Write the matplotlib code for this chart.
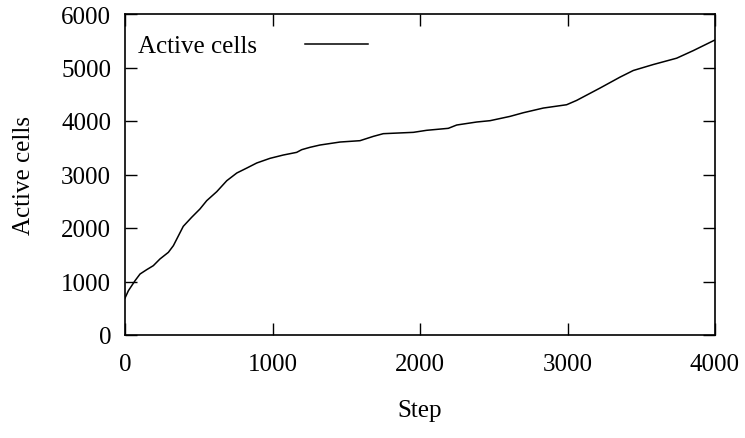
import matplotlib
matplotlib.use("Agg")
import matplotlib.pyplot as plt

steps = [0, 23, 68, 102, 147, 192, 237, 294, 328, 395, 452, 508, 554, 622,
         690, 758, 826, 893, 983, 1073, 1164, 1198, 1254, 1322, 1458, 1593,
         1684, 1751, 1955, 2045, 2192, 2249, 2384, 2475, 2610, 2701, 2836,
         2994, 3062, 3220, 3356, 3446, 3582, 3740, 3853, 4000]
active = [690, 828, 1015, 1140, 1221, 1296, 1421, 1545, 1670, 2031, 2200,
          2355, 2511, 2679, 2884, 3028, 3121, 3215, 3302, 3364, 3414, 3464,
          3508, 3551, 3607, 3632, 3713, 3763, 3788, 3826, 3863, 3925, 3981,
          4006, 4086, 4155, 4242, 4304, 4385, 4615, 4820, 4944, 5056, 5174,
          5316, 5515]
xticks = [0, 1000, 2000, 3000, 4000]
yticks = [0, 1000, 2000, 3000, 4000, 5000, 6000]

plt.rcParams['font.family'] = ['Liberation Serif', 'DejaVu Serif']
plt.rcParams['font.size'] = 18

fig = plt.figure(figsize=(7.45, 4.39), dpi=100)
ax = fig.add_axes([125/745, 1-336/439, (715-125)/745, (336-15)/439])

ax.plot(steps, active, color='black', lw=1.1, label='Active cells')
ax.set_xlim(0, 4000)
ax.set_ylim(0, 6000)
ax.set_xticks(xticks)
ax.set_yticks(yticks)
ax.tick_params(direction='in', length=8.6, width=1, top=True, right=True,
               labelsize=18)
ax.tick_params(axis='x', pad=13)
ax.tick_params(axis='y', pad=10)
for s in ax.spines.values():
    s.set_linewidth(1.2)
ax.set_xlabel('Step', fontsize=18, labelpad=17)
ax.set_ylabel('Active cells', fontsize=18, labelpad=19)
ax.legend(loc='upper left', bbox_to_anchor=(0.022, 0.935), frameon=False,
          markerfirst=False, handlelength=2.52, handletextpad=1.92,
          borderaxespad=0, borderpad=0, fontsize=18)

fig.savefig('out.png', dpi=100)
